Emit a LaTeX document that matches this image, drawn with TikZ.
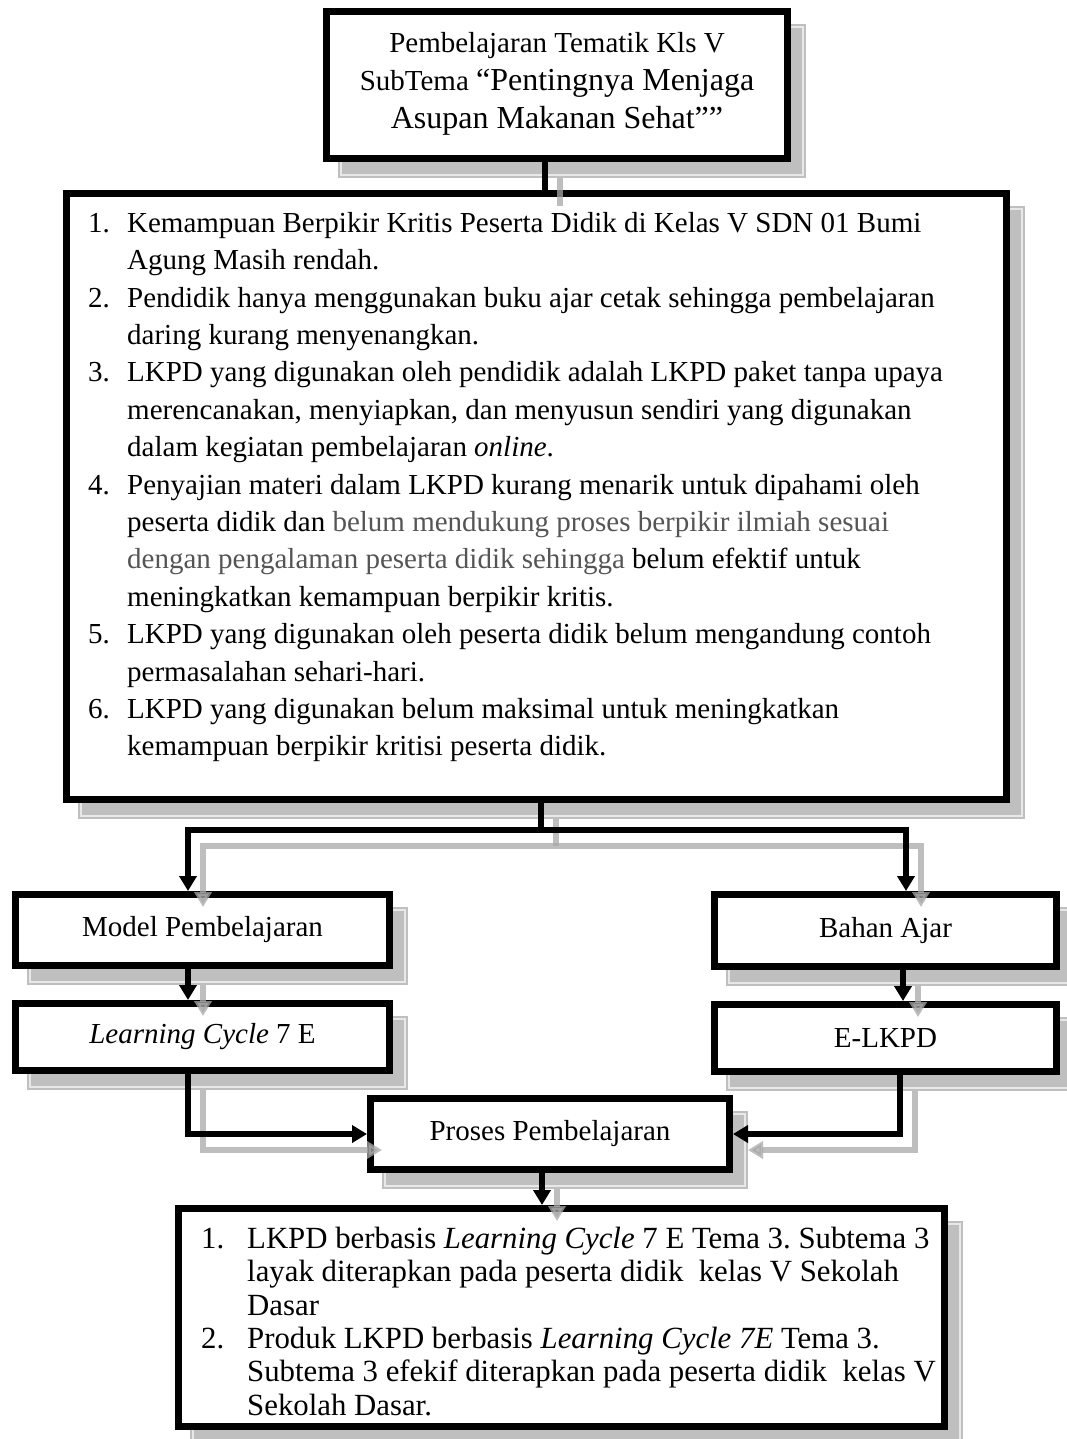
\documentclass[tikz,border=0pt]{standalone}
\usepackage{fontspec}
\setmainfont{Liberation Serif}
\usetikzlibrary{arrows.meta,calc,backgrounds}
\definecolor{shadowgray}{HTML}{BFBFBF}
\definecolor{shadowline}{HTML}{E8E8E8}
\definecolor{connshadow}{HTML}{A8A8A8}
\definecolor{midgray}{HTML}{555555}
\newcommand{\myfont}{\fontsize{29}{34}\selectfont}
\newcommand{\normspace}{\frenchspacing\spaceskip=0pt\xspaceskip=0pt\parindent=0pt\parskip=0pt}
\begin{document}
\begin{tikzpicture}[x=1pt,y=-1pt,
  box/.style={draw=black,line width=7pt,fill=white,inner sep=0pt,rectangle,font=\myfont},
  link/.style={draw=black,line width=5.5pt},
  arrowlink/.style={link,-{Triangle[length=15pt,width=17pt]}},
  slink/.style={draw=connshadow,opacity=0.75,line width=5.5pt},
  sarrow/.style={slink,-{Triangle[length=15pt,width=17pt]}},
  txt/.style={inner sep=0pt,anchor=north west}]
\useasboundingbox (0,0) rectangle (1067,1439);

% boxes
\node[box,minimum width=461pt,minimum height=147pt] (top) at (557,85) {};
\node[box,minimum width=940pt,minimum height=606pt] (big) at (536.5,496.5) {};
\node[box,minimum width=374pt,minimum height=71pt] (model) at (202.5,930) {Model Pembelajaran};
\node[box,minimum width=374pt,minimum height=67pt] (lc) at (202.5,1037) {\textit{Learning Cycle} 7 E};
\node[box,minimum width=342pt,minimum height=72pt] (bahan) at (885.5,930.5) {Bahan Ajar};
\node[box,minimum width=342pt,minimum height=67pt] (elkpd) at (885.5,1038) {E-LKPD};
\node[box,minimum width=359pt,minimum height=71pt] (proses) at (550,1134) {Proses Pembelajaran};
\node[box,minimum width=766pt,minimum height=218pt] (bottom) at (561.5,1317.5) {};

% shadows of boxes
\begin{scope}[on background layer]
\foreach \n in {top,big,model,lc,bahan,elkpd,proses,bottom}{
  \fill[shadowgray] ($(\n.north west)+(15,16)$) rectangle ($(\n.south east)+(15,16)$);
  \draw[shadowline,line width=1.2pt] ($(\n.north west)+(18,19)$) rectangle ($(\n.south east)+(12,13)$);
}
\end{scope}

% texts
\node[txt,anchor=north,text width=470pt] (toptext) at (557,32)
 {\fontsize{29}{38}\selectfont\normspace\centering
  \rule{0pt}{20pt}Pembelajaran Tematik Kls V\par
  SubTema {\fontsize{32}{38}\selectfont\normspace “Pentingnya Menjaga\par
  Asupan Makanan Sehat””\par}};

\node[txt,text width=930pt] (bigtext) at (88,212)
 {\fontsize{29}{37.4}\selectfont\normspace
 \hangindent=39pt\hangafter=1\rule{0pt}{20pt}\makebox[39pt][l]{1.}Kemampuan Berpikir Kritis Peserta Didik di Kelas V SDN 01 Bumi\newline
 Agung Masih rendah.\par
 \hangindent=39pt\hangafter=1\makebox[39pt][l]{2.}Pendidik hanya menggunakan buku ajar cetak sehingga pembelajaran\newline
 daring kurang menyenangkan.\par
 \hangindent=39pt\hangafter=1\makebox[39pt][l]{3.}LKPD yang digunakan oleh pendidik adalah LKPD paket tanpa upaya\newline
 merencanakan, menyiapkan, dan menyusun sendiri yang digunakan\newline
 dalam kegiatan pembelajaran \textit{online}.\par
 \hangindent=39pt\hangafter=1\makebox[39pt][l]{4.}Penyajian materi dalam LKPD kurang menarik untuk dipahami oleh\newline
 peserta didik dan {\color{midgray}belum mendukung proses berpikir ilmiah sesuai}\newline
 {\color{midgray}dengan pengalaman peserta didik sehingga} belum efektif untuk\newline
 meningkatkan kemampuan berpikir kritis.\par
 \hangindent=39pt\hangafter=1\makebox[39pt][l]{5.}LKPD yang digunakan oleh peserta didik belum mengandung contoh\newline
 permasalahan sehari-hari.\par
 \hangindent=39pt\hangafter=1\makebox[39pt][l]{6.}LKPD yang digunakan belum maksimal untuk meningkatkan\newline
 kemampuan berpikir kritisi peserta didik.\par};

\node[txt,text width=760pt] (bottomtext) at (201,1227)
 {\fontsize{30.8}{33.3}\selectfont\normspace
 \hangindent=46pt\hangafter=1\rule{0pt}{20pt}\makebox[46pt][l]{1.}LKPD berbasis \textit{Learning Cycle} 7 E Tema 3. Subtema 3\newline
 layak diterapkan pada peserta didik~ kelas V Sekolah\newline
 Dasar\par
 \hangindent=46pt\hangafter=1\makebox[46pt][l]{2.}Produk LKPD berbasis \textit{Learning Cycle 7E} Tema 3.\newline
 Subtema 3 efekif diterapkan pada peserta didik~ kelas V\newline
 Sekolah Dasar.\par};

% connector x / y positions
\coordinate (xa) at (545,0);
\coordinate (xb) at (541,0);
\coordinate (ya) at (0,830);
\coordinate (xl) at (188,0);
\coordinate (xr1) at (906,0);
\coordinate (xr2) at (903,0);
\coordinate (xr3) at (900,0);
\coordinate (xp) at (542,0);

% shadow connectors
\draw[slink] ($(top.south -| xa)+(15,16)$) -- ($(big.north -| xa)+(15,16)$);
\draw[slink] ($(big.south -| xb)+(15,16)$) -- ($(xb |- ya)+(15,16)$);
\draw[slink,{Triangle[length=15pt,width=17pt]}-{Triangle[length=15pt,width=17pt]}]
  ($(model.north -| xl)+(15,16)$) -- ($(xl |- ya)+(15,16)$) -- ($(xr1 |- ya)+(15,16)$) -- ($(bahan.north -| xr1)+(15,16)$);
\draw[sarrow] ($(model.south -| xl)+(15,16)$) -- ($(lc.north -| xl)+(15,16)$);
\draw[sarrow] ($(bahan.south -| xr2)+(15,16)$) -- ($(elkpd.north -| xr2)+(15,16)$);
\draw[sarrow] ($(lc.south -| xl)+(15,16)$) -- ($(xl |- proses.west)+(15,16)$) -- ($(proses.west)+(15,16)$);
\draw[sarrow] ($(elkpd.south -| xr3)+(15,16)$) -- ($(xr3 |- proses.east)+(15,16)$) -- ($(proses.east)+(15,16)$);
\draw[sarrow] ($(proses.south -| xp)+(15,16)$) -- ($(bottom.north -| xp)+(15,16)$);

% black connectors
\draw[link] (top.south -| xa) -- (big.north -| xa);
\draw[link] (big.south -| xb) -- (xb |- ya);
\draw[link,{Triangle[length=15pt,width=17pt]}-{Triangle[length=15pt,width=17pt]}]
  (model.north -| xl) -- (xl |- ya) -- (xr1 |- ya) -- (bahan.north -| xr1);
\draw[arrowlink] (model.south -| xl) -- (lc.north -| xl);
\draw[arrowlink] (bahan.south -| xr2) -- (elkpd.north -| xr2);
\draw[arrowlink] (lc.south -| xl) -- (xl |- proses.west) -- (proses.west);
\draw[arrowlink] (elkpd.south -| xr3) -- (xr3 |- proses.east) -- (proses.east);
\draw[arrowlink] (proses.south -| xp) -- (bottom.north -| xp);
\end{tikzpicture}
\end{document}
